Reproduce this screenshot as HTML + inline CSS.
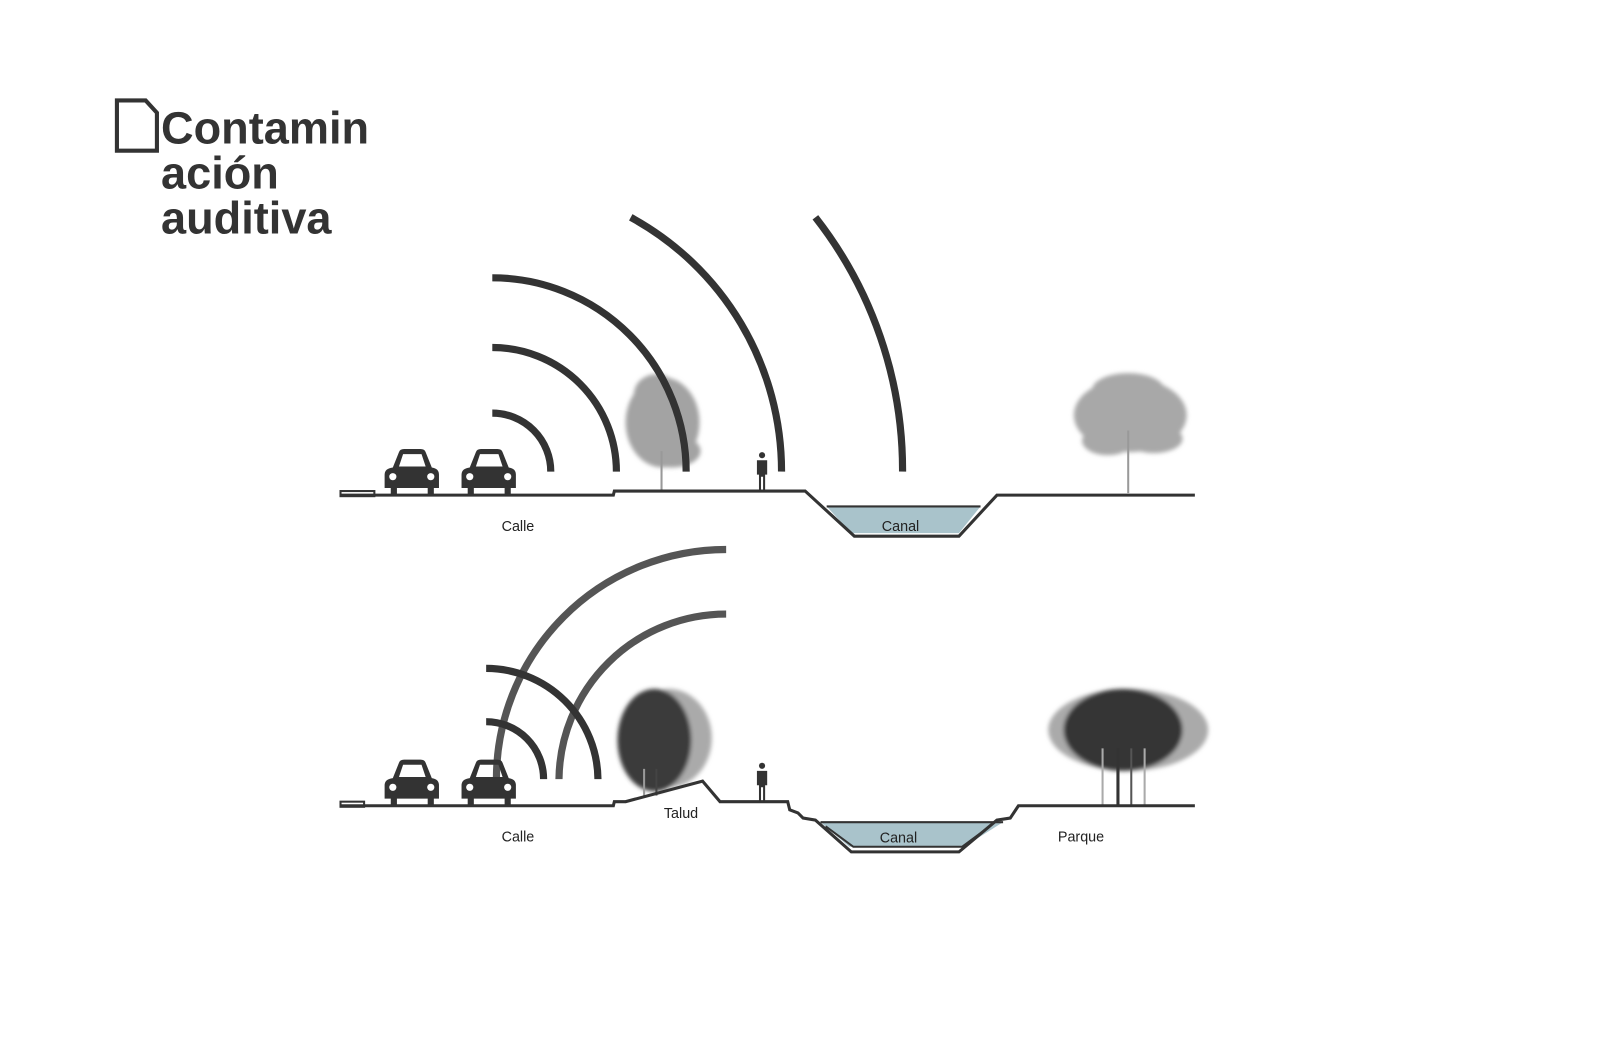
<!DOCTYPE html>
<html><head><meta charset="utf-8"><style>
html,body{margin:0;padding:0;background:#fff;}
svg{display:block}
</style></head><body>
<svg width="1600" height="1060" viewBox="0 0 1560 1034" preserveAspectRatio="none" xmlns="http://www.w3.org/2000/svg">
<defs>
<filter id="blur" x="-20%" y="-20%" width="140%" height="140%"><feGaussianBlur stdDeviation="2"/></filter>
<g id="car">
<path d="M8,18 L14,3 Q15,0 19,0 L35,0 Q39,0 40,3 L46,18 Q53,19 53,25 L53,38 L48,38 L48,44 L42,44 L42,38 L12,38 L12,44 L6,44 L6,38 L0,38 L0,25 Q0,19 8,18 Z M14,17 L40,17 L36,5 L18,5 Z" fill="#333" fill-rule="evenodd"/>
<circle cx="8" cy="27" r="3.5" fill="#fff"/><circle cx="45" cy="27" r="3.5" fill="#fff"/>
</g>
<g id="person" fill="#333">
<circle cx="6" cy="3" r="3"/>
<path d="M1,8 L11,8 L11,22 L9,22 L9,38 L7,38 L7,24 L5,24 L5,38 L3,38 L3,22 L1,22 Z"/>
</g>
</defs>

<!-- title -->
<path d="M114,98 L142,98 L153,110 L153,147 L114,147 Z" fill="none" stroke="#333" stroke-width="4"/>
<g font-family="Liberation Sans, sans-serif" font-weight="bold" font-size="44" fill="#333">
<text x="157" y="140">Contamin</text>
<text x="157" y="184">ación</text>
<text x="157" y="228">auditiva</text>
</g>

<!-- TOP SECTION -->
<!-- tree top left -->
<g fill="#a3a3a3" filter="url(#blur)">
<ellipse cx="646" cy="412" rx="36" ry="44"/><ellipse cx="640" cy="385" rx="22" ry="20"/><ellipse cx="655" cy="440" rx="28" ry="16"/>
</g>
<line x1="645" y1="440" x2="645" y2="479" stroke="#999" stroke-width="2"/>
<!-- tree top right -->
<g fill="#a8a8a8" filter="url(#blur)">
<ellipse cx="1102" cy="405" rx="55" ry="36"/><ellipse cx="1100" cy="380" rx="35" ry="16"/><ellipse cx="1080" cy="430" rx="25" ry="14"/><ellipse cx="1125" cy="428" rx="28" ry="14"/>
</g>
<line x1="1100" y1="420" x2="1100" y2="481" stroke="#999" stroke-width="2"/>

<g fill="none" stroke="#333" stroke-width="7">
<path d="M480,403 A57,57 0 0 1 537,460"/>
<path d="M480,339 A121,121 0 0 1 601,460"/>
<path d="M480,271 A189,189 0 0 1 669,460"/>
<path d="M615,212 A282,282 0 0 1 762,460"/>
<path d="M795,212 A400,400 0 0 1 880,460"/>
</g>

<polygon points="806,494 956,494 935,520 830,520" fill="#a9c3cb"/>
<path d="M806,494 L956,494" stroke="#333" stroke-width="2"/>
<path d="M332,483 L598,483 L599,479 L785,479 L833,523 L935,523 L972,483 L1165,483" fill="none" stroke="#333" stroke-width="3"/>
<rect x="332" y="479" width="33" height="5" fill="none" stroke="#333" stroke-width="2"/>
<use href="#car" x="375" y="438"/>
<use href="#car" x="450" y="438"/>
<use href="#person" x="737" y="441"/>
<g font-family="Liberation Sans, sans-serif" font-size="14" fill="#222" text-anchor="middle">
<text x="505" y="518">Calle</text>
<text x="878" y="518">Canal</text>
</g>

<!-- BOTTOM SECTION -->
<g fill="none" stroke="#555" stroke-width="7">
<path d="M708,536 A224,224 0 0 0 484,760"/>
<path d="M708,599 A163,163 0 0 0 545,760"/>
</g>
<g fill="none" stroke="#333" stroke-width="7">
<path d="M474,704 A56,56 0 0 1 530,760"/>
<path d="M474,652 A109,109 0 0 1 583,760"/>
</g>
<!-- tree bottom left -->
<g filter="url(#blur)">
<ellipse cx="652" cy="720" rx="42" ry="48" fill="#aaa"/>
<ellipse cx="638" cy="722" rx="36" ry="50" fill="#3a3a3a"/>
</g>
<line x1="628" y1="750" x2="628" y2="778" stroke="#999" stroke-width="2"/>
<line x1="640" y1="750" x2="640" y2="776" stroke="#444" stroke-width="2"/>
<!-- tree bottom right -->
<g filter="url(#blur)">
<ellipse cx="1100" cy="712" rx="78" ry="40" fill="#aaa"/>
<ellipse cx="1095" cy="712" rx="58" ry="40" fill="#353535"/>
</g>
<g stroke-width="2">
<line x1="1075" y1="730" x2="1075" y2="786" stroke="#aaa"/>
<line x1="1090" y1="730" x2="1090" y2="786" stroke="#333" stroke-width="3"/>
<line x1="1103" y1="730" x2="1103" y2="786" stroke="#555"/>
<line x1="1116" y1="730" x2="1116" y2="786" stroke="#aaa"/>
</g>

<polygon points="800,802 978,802 940,826 828,826" fill="#a9c3cb"/>
<path d="M800,802 L978,802" stroke="#333" stroke-width="2"/>
<path d="M805,806 L832,826 L938,826 L965,806" fill="none" stroke="#333" stroke-width="2"/>
<path d="M332,786 L598,786 L599,782 L610,782 L685,762 L702,782 L768,782 L770,790 L778,793 L783,798 L795,800 L830,831 L935,831 L972,800 L985,798 L993,786 L1165,786" fill="none" stroke="#333" stroke-width="3"/>
<rect x="332" y="782" width="23" height="5" fill="none" stroke="#333" stroke-width="2"/>
<use href="#car" x="375" y="741"/>
<use href="#car" x="450" y="741"/>
<use href="#person" x="737" y="744"/>
<g font-family="Liberation Sans, sans-serif" font-size="14" fill="#222" text-anchor="middle">
<text x="505" y="821">Calle</text>
<text x="664" y="798">Talud</text>
<text x="876" y="822">Canal</text>
<text x="1054" y="821">Parque</text>
</g>
</svg>
</body></html>
